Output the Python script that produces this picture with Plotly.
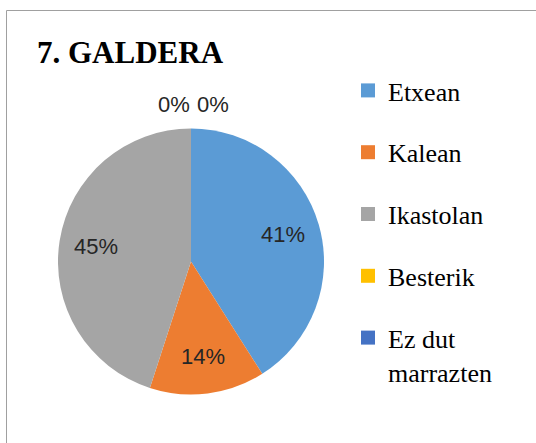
import math
import plotly.graph_objects as go

categories = ["Etxean", "Kalean", "Ikastolan", "Besterik", "Ez dut marrazten"]
values = [41, 14, 45, 0, 0]
colors = ["#5B9BD5", "#ED7D31", "#A5A5A5", "#FFC000", "#4472C4"]
legend_text = ["Etxean", "Kalean", "Ikastolan", "Besterik", "Ez dut<br>marrazten"]
title_text = "7. GALDERA"

W, H = 536, 443
# pie geometry (pixels)
CX, CY, R = 191, 261.5, 133

fig = go.Figure()
fig.add_trace(go.Pie(
    labels=categories,
    values=values,
    marker=dict(colors=colors, line=dict(width=0)),
    sort=False,
    direction="clockwise",
    rotation=0,
    textinfo="none",
    showlegend=False,
    domain=dict(x=[(CX - R) / W, (CX + R) / W], y=[1 - (CY + R) / H, 1 - (CY - R) / H]),
    hoverinfo="label+percent",
))

# legend entries
for name, lt, c in zip(categories, legend_text, colors):
    fig.add_trace(go.Scatter(
        x=[None], y=[None], mode="markers", name=lt, legendgroup=name,
        marker=dict(symbol="square", size=14, color=c),
        hoverinfo="skip",
    ))

# data labels
total = sum(values)
label_font = dict(family="Liberation Sans, Arial", size=22, color="#262626")
cum = 0
zero_offsets = [-17, 22]
zi = 0
for c, v in zip(categories, values):
    pct = 100 * v / total
    if v > 0:
        mid = (cum + v / 2) / total * 2 * math.pi
        px = CX + 0.72 * R * math.sin(mid)
        py = CY - 0.72 * R * math.cos(mid)
    else:
        ang = cum / total * 2 * math.pi
        px = CX + 1.18 * R * math.sin(ang) + zero_offsets[zi % 2]
        py = CY - 1.18 * R * math.cos(ang)
        zi += 1
    fig.add_annotation(x=px / W, y=1 - py / H, xref="paper", yref="paper",
                       xanchor="center", yanchor="middle",
                       text=f"{round(pct)}%", showarrow=False, font=label_font)
    cum += v

fig.update_layout(
    width=W, height=H,
    margin=dict(l=0, r=0, t=0, b=0),
    paper_bgcolor="white",
    plot_bgcolor="white",
    xaxis=dict(visible=False),
    yaxis=dict(visible=False),
    title=dict(text="<b>" + title_text + "</b>", x=37 / W, xanchor="left", y=1 - 52 / H, yanchor="middle",
               font=dict(family="Liberation Serif, Times New Roman", size=31, color="black")),
    legend=dict(x=348 / W, y=1 - 67 / H, xanchor="left", yanchor="top",
                font=dict(family="Liberation Serif, Times New Roman", size=26, color="black"),
                valign="top", itemwidth=30, tracegroupgap=25, bgcolor="rgba(0,0,0,0)"),
    showlegend=True,
    shapes=[dict(type="rect", xref="paper", yref="paper",
                 x0=6.5 / W, x1=1.05, y0=-0.05, y1=1 - 10.5 / H,
                 line=dict(color="#A0A0A0", width=1), fillcolor="rgba(0,0,0,0)")],
)

fig.write_html("out.html", config={"displayModeBar": False},
               post_script="document.body.style.margin='0';document.body.style.overflow='hidden';")
